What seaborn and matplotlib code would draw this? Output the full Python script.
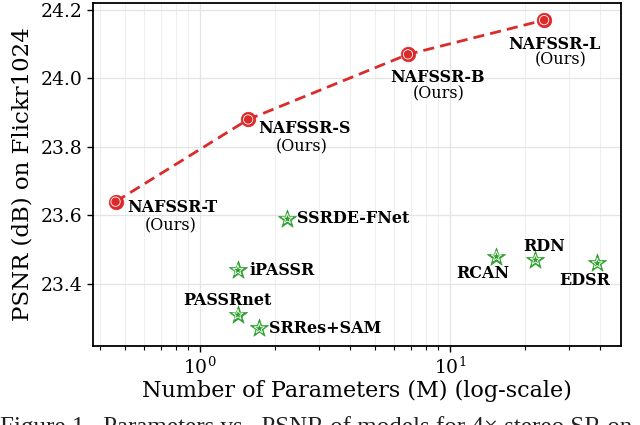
import matplotlib
matplotlib.use("Agg")
import matplotlib.pyplot as plt
import seaborn as sns
import pandas as pd
from matplotlib.ticker import LogLocator, NullFormatter, MultipleLocator

ours_names = ["NAFSSR-T", "NAFSSR-S", "NAFSSR-B", "NAFSSR-L"]
ours_params = [0.46, 1.56, 6.80, 23.83]
ours_psnr = [23.64, 23.88, 24.07, 24.17]

other_names = ["SSRDE-FNet", "iPASSR", "PASSRnet", "SRRes+SAM", "RCAN", "RDN", "EDSR"]
other_params = [2.24, 1.42, 1.42, 1.73, 15.36, 22.0, 38.9]
other_psnr = [23.59, 23.44, 23.31, 23.27, 23.48, 23.47, 23.46]

sns.set_theme(style="whitegrid")
plt.rcParams["font.family"] = ["DejaVu Serif"]
plt.rcParams["text.color"] = "black"
plt.rcParams["axes.labelcolor"] = "black"
plt.rcParams["xtick.color"] = "black"
plt.rcParams["ytick.color"] = "black"

fig = plt.figure(figsize=(6.4, 4.25), dpi=100)
ax = fig.add_axes([0.145, 0.186, 0.825, 0.807])

RED = "#dc2a2a"
GREEN = "#2ca02c"

df_o = pd.DataFrame({"p": ours_params, "v": ours_psnr})
df_x = pd.DataFrame({"p": other_params, "v": other_psnr})

sns.lineplot(data=df_o, x="p", y="v", ax=ax, color=RED, lw=2, linestyle=(0, (4, 2.2)), zorder=3)
sns.scatterplot(data=df_o, x="p", y="v", ax=ax, color=RED, s=110, marker="o",
                edgecolor=RED, linewidth=0.5, zorder=4)
sns.scatterplot(data=df_o, x="p", y="v", ax=ax, color="none", s=45, marker="o",
                edgecolor="white", linewidth=0.6, zorder=5)
sns.scatterplot(data=df_x, x="p", y="v", ax=ax, color=GREEN, s=190, marker="*",
                edgecolor=GREEN, linewidth=0.5, zorder=4)
sns.scatterplot(data=df_x, x="p", y="v", ax=ax, color="none", s=60, marker="*",
                edgecolor="white", linewidth=0.6, zorder=5)

ax.set_xscale("log")
ax.set_xlim(0.373, 48.3)
ax.set_ylim(23.219, 24.22)
ax.yaxis.set_major_locator(MultipleLocator(0.2))
ax.xaxis.set_minor_locator(LogLocator(base=10, subs=range(2, 10)))
ax.xaxis.set_minor_formatter(NullFormatter())

ax.grid(True, which="major", color="#e4e4e4", lw=0.9)
ax.grid(True, which="minor", axis="x", color="#efefef", lw=0.8)
ax.set_facecolor("white")
for s in ax.spines.values():
    s.set_color("black")
    s.set_linewidth(1.3)

ax.tick_params(axis="both", which="major", labelsize=13.5, colors="black", length=4, width=1, direction="out",
               bottom=True, left=True)
ax.tick_params(axis="x", which="minor", length=3, width=0.8, bottom=True, color="black")
ax.set_xlabel("Number of Parameters (M) (log-scale)", fontsize=16, labelpad=2)
ax.set_ylabel("PSNR (dB) on Flickr1024", fontsize=16.5, labelpad=5)

FS = 11.5
ours_bold_off = [(57, -6), (56, -9), (30, -23), (10, -24)]
ours_sub_off = [(55, -24), (54, -27), (31, -40), (17, -40)]
for i in range(len(ours_names)):
    ax.annotate(ours_names[i], (ours_params[i], ours_psnr[i]), xytext=ours_bold_off[i],
                textcoords="offset pixels", ha="center", va="center", fontsize=FS, fontweight="bold")
    ax.annotate("(Ours)", (ours_params[i], ours_psnr[i]), xytext=ours_sub_off[i],
                textcoords="offset pixels", ha="center", va="center", fontsize=FS)

other_off = [(10, 0, "left"), (12, 0, "left"), (-10, 14, "center"), (10, 0, "left"),
             (-14, -17, "center"), (9, 13, "center"), (-13, -17, "center")]
for i in range(len(other_names)):
    dx, dy, ha = other_off[i]
    ax.annotate(other_names[i], (other_params[i], other_psnr[i]), xytext=(dx, dy),
                textcoords="offset pixels", ha=ha, va="center", fontsize=FS, fontweight="bold")

fig.text(0.0, 0.022, "Figure 1.  Parameters vs.  PSNR of models for 4\u00d7 stereo SR on",
         fontsize=18, family=["Liberation Serif", "DejaVu Serif"], va="top", ha="left", color="#222222")

fig.savefig("out.png", dpi=100)
